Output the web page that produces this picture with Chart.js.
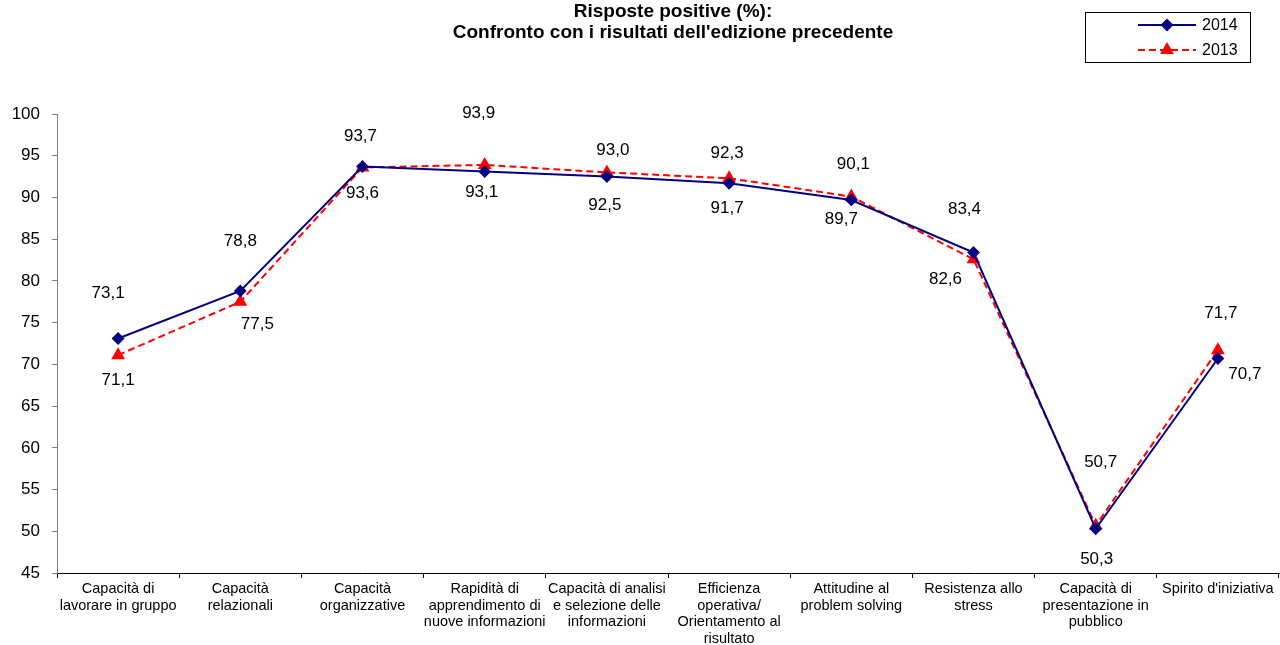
<!DOCTYPE html>
<html lang="it">
<head>
  <meta charset="UTF-8">
  <title>Risposte positive (%)</title>
  <style>
    body { margin: 0; font-family: "Liberation Sans", Arial, sans-serif; background: #fff; }
    #wrap { position: relative; width: 1280px; height: 645px; }
    #title {
      position: absolute; left: 323px; width: 700px; top: 0px;
      text-align: center; font-weight: bold; font-size: 19px; line-height: 21px;
    }
  </style>
  <script src="https://cdn.jsdelivr.net/npm/chart.js@4.4.0/dist/chart.umd.min.js"></script>
</head>
<body>
  <div id="wrap">
    <canvas id="chart" width="1280" height="645"></canvas>
    <div id="title">Risposte positive (%):<br>Confronto con i risultati dell'edizione precedente</div>
  </div>

  <script>
    const categories = [
      ['Capacità di', 'lavorare in gruppo'],
      ['Capacità', 'relazionali'],
      ['Capacità', 'organizzative'],
      ['Rapidità di', 'apprendimento di', 'nuove informazioni'],
      ['Capacità di analisi', 'e selezione delle', 'informazioni'],
      ['Efficienza', 'operativa/', 'Orientamento al', 'risultato'],
      ['Attitudine al', 'problem solving'],
      ['Resistenza allo', 'stress'],
      ['Capacità di', 'presentazione in', 'pubblico'],
      ["Spirito d'iniziativa"]
    ];
    const values2014 = [73.1, 78.8, 93.7, 93.1, 92.5, 91.7, 89.7, 83.4, 50.3, 70.7];
    const values2013 = [71.1, 77.5, 93.6, 93.9, 93.0, 92.3, 90.1, 82.6, 50.7, 71.7];
    const yTicks = { min: 45, max: 100, step: 5 };

    // where Excel put each value label, relative to its point (px)
    const labelOffsets2014 = [[-10, -45], [0, -50], [-2, -30], [-3, 21], [-2, 29], [-2, 25], [-10, 19], [-9, -43], [1, 31], [27, 16]];
    const labelOffsets2013 = [[0, 25], [17, 23], [0, 26], [-6, -52], [6, -22], [-2, -25], [2, -32], [-28, 20], [5, -63], [3, -37]];

    const FONT = '"Liberation Sans", Arial, sans-serif';
    const fmt = v => v.toFixed(1).replace('.', ',');

    const valueLabels = {
      id: 'valueLabels',
      afterDatasetsDraw(chart) {
        const ctx = chart.ctx;
        ctx.save();
        ctx.font = '17px ' + FONT;
        ctx.fillStyle = '#000';
        ctx.textAlign = 'center';
        ctx.textBaseline = 'middle';
        chart.data.datasets.forEach((ds, di) => {
          const offs = ds.labelOffsets;
          chart.getDatasetMeta(di).data.forEach((pt, i) => {
            ctx.fillText(fmt(ds.data[i]), pt.x + offs[i][0], pt.y + offs[i][1]);
          });
        });
        ctx.restore();
      }
    };

    const boxLegend = {
      id: 'boxLegend',
      afterDraw(chart) {
        const ctx = chart.ctx;
        ctx.save();
        ctx.strokeStyle = '#000';
        ctx.lineWidth = 1;
        ctx.strokeRect(1085.5, 12.5, 165, 50);
        ctx.font = '16px ' + FONT;
        ctx.textBaseline = 'middle';
        ctx.textAlign = 'left';
        chart.data.datasets.forEach((ds, i) => {
          const y = 25 + i * 25;
          ctx.strokeStyle = ds.borderColor;
          ctx.lineWidth = 2;
          ctx.setLineDash(ds.borderDash || []);
          ctx.beginPath();
          ctx.moveTo(1138, y);
          ctx.lineTo(1196, y);
          ctx.stroke();
          ctx.setLineDash([]);
          ctx.fillStyle = ds.pointBackgroundColor;
          ctx.strokeStyle = ds.pointBackgroundColor;
          Chart.helpers.drawPoint(ctx, {
            pointStyle: ds.pointStyle, radius: ds.pointRadius, borderWidth: 1
          }, 1167, y);
          ctx.fillStyle = '#000';
          ctx.fillText(ds.label, 1202, y + 1);
        });
        ctx.restore();
      }
    };

    new Chart(document.getElementById('chart'), {
      type: 'line',
      data: {
        labels: categories,
        datasets: [
          {
            label: '2014',
            data: values2014,
            borderColor: '#000080',
            backgroundColor: '#000080',
            pointBackgroundColor: '#000080',
            pointBorderColor: '#000080',
            borderWidth: 2,
            pointStyle: 'rectRot',
            pointRadius: 5,
            pointHoverRadius: 5,
            tension: 0,
            labelOffsets: labelOffsets2014
          },
          {
            label: '2013',
            data: values2013,
            borderColor: '#FF0000',
            backgroundColor: '#FF0000',
            pointBackgroundColor: '#FF0000',
            pointBorderColor: '#FF0000',
            borderWidth: 2,
            borderDash: [7, 4],
            pointStyle: 'triangle',
            pointRadius: 6,
            pointHoverRadius: 6,
            tension: 0,
            labelOffsets: labelOffsets2013
          }
        ]
      },
      options: {
        responsive: false,
        animation: false,
        layout: { autoPadding: false, padding: { top: 114, right: 1, left: 0, bottom: 0 } },
        plugins: {
          legend: { display: false },
          tooltip: { enabled: false }
        },
        scales: {
          x: {
            offset: true,
            border: { color: '#000', width: 1 },
            grid: { drawOnChartArea: false, tickLength: 5, color: '#000', offset: true },
            ticks: {
              color: '#000',
              font: { family: FONT, size: 14.5, lineHeight: 1.14 },
              maxRotation: 0,
              autoSkip: false,
              padding: 3
            },
            afterFit(scale) { scale.height = 72; }
          },
          y: {
            min: yTicks.min,
            max: yTicks.max,
            border: { color: '#808080', width: 1 },
            grid: { drawOnChartArea: false, tickLength: 5, color: '#808080' },
            ticks: {
              stepSize: yTicks.step,
              color: '#000',
              font: { family: FONT, size: 17 },
              padding: 12
            },
            afterFit(scale) { scale.width = 57; }
          }
        }
      },
      plugins: [valueLabels, boxLegend]
    });
  </script>
</body>
</html>
